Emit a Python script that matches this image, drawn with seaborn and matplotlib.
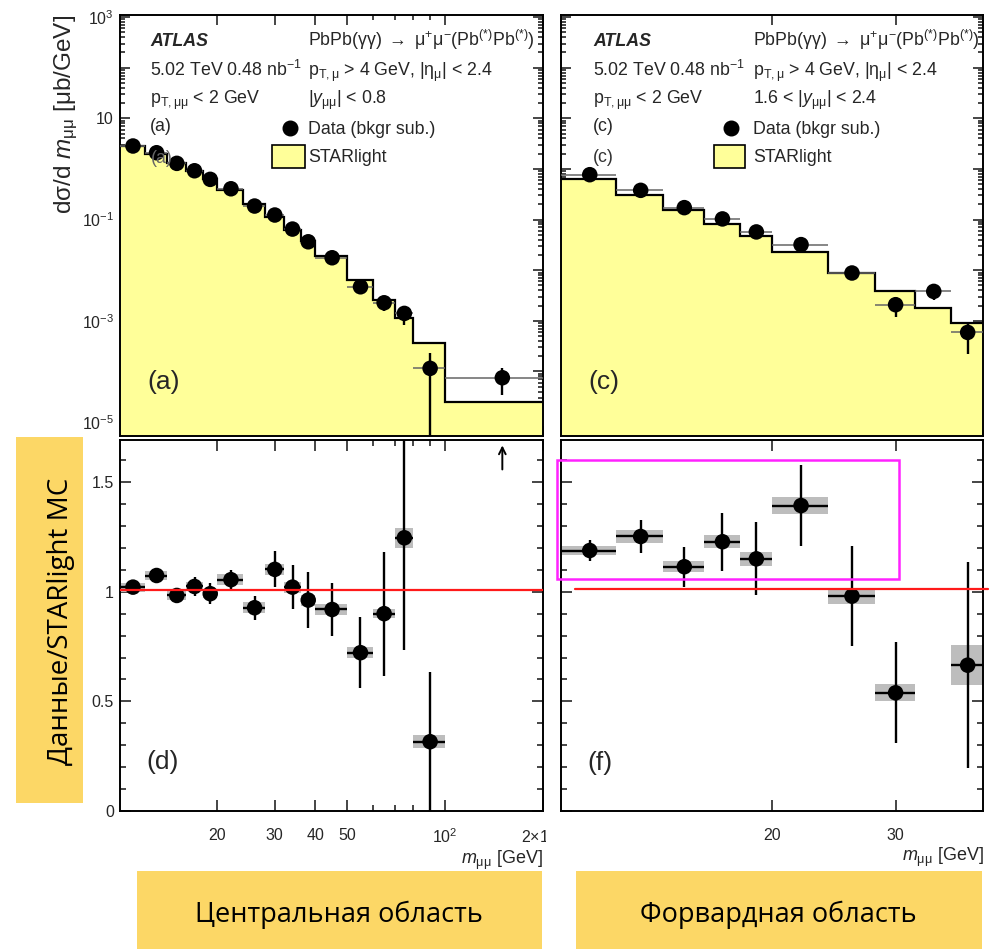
import numpy as np
import matplotlib
matplotlib.use("Agg")
import matplotlib.pyplot as plt
import matplotlib.ticker as mticker
from matplotlib.patches import Rectangle
from matplotlib.transforms import Bbox, TransformedBbox
import seaborn as sns

# ---------------- data ----------------
edges_c = [10, 12, 14, 16, 18, 20, 24, 28, 32, 36, 40, 50, 60, 70, 80, 100, 200]
centers_c = [11, 13, 15, 17, 19, 22, 26, 30, 34, 38, 45, 55, 65, 75, 90, 150]
data_c = [2.84, 2.09, 1.29, 0.921, 0.623, 0.406, 0.185, 0.123, 0.0649, 0.0364,
          0.0176, 0.0047, 0.00227, 0.0014, 1.15e-4, 7.5e-5]
data_c_err = [0.056, 0.049, 0.026, 0.040, 0.031, 0.017, 0.011, 0.0092, 0.0064, 0.0048,
              0.0023, 0.00106, 0.00071, 0.00058, 1.16e-4, 4.1e-5]
starlight_c = [2.78, 1.95, 1.31, 0.90, 0.629, 0.385, 0.200, 0.112, 0.0636, 0.0378,
               0.0192, 0.0065, 0.00252, 0.00112, 3.6e-4, 2.44e-5]
ratio_c = [1.021, 1.074, 0.983, 1.024, 0.991, 1.055, 0.927, 1.102, 1.021, 0.962,
           0.919, 0.722, 0.900, 1.246, 0.316]
ratio_c_err = [0.02, 0.025, 0.02, 0.044, 0.049, 0.045, 0.055, 0.082, 0.10, 0.128,
               0.119, 0.163, 0.283, 0.512, 0.32]
ratio_c_syst = [0.02, 0.02, 0.02, 0.02, 0.02, 0.025, 0.025, 0.025, 0.025, 0.025,
                0.025, 0.025, 0.022, 0.046, 0.03]

edges_f = [10, 12, 14, 16, 18, 20, 24, 28, 32, 36, 40]
centers_f = [11, 13, 15, 17, 19, 22, 26, 30, 34, 38]
data_f = [0.77, 0.378, 0.172, 0.103, 0.057, 0.032, 0.0088, 0.00208, 0.00381, 5.9e-4]
data_f_err = [0.032, 0.022, 0.0142, 0.0112, 0.0083, 0.0042, 0.0020, 0.00089, 0.0012, 3.7e-4]
starlight_f = [0.634, 0.30, 0.152, 0.080, 0.048, 0.0229, 0.0088, 0.0038, 0.00179, 9.06e-4]
ratio_f = [1.188, 1.252, 1.114, 1.228, 1.150, 1.393, 0.980, 0.539, 2.13, 0.665]
ratio_f_err = [0.05, 0.074, 0.092, 0.133, 0.167, 0.183, 0.228, 0.231, 0.3, 0.47]
ratio_f_syst = [0.021, 0.029, 0.025, 0.03, 0.031, 0.037, 0.034, 0.038, 0.04, 0.092]

xticks_c = [20, 30, 40, 50, 100, 200]
xticklabels_c = ["20", "30", "40", "50", "10$^{2}$", "2\u00d710$^{2}$"]
xticks_f = [20, 30]
xticklabels_f = ["20", "30"]
rticks = [0, 0.5, 1, 1.5]
rticklabels = ["0", "0.5", "1", "1.5"]

# ---------------- style ----------------
sns.set_theme(style="ticks")
plt.rcParams["font.family"] = ["Liberation Sans", "DejaVu Sans"]
plt.rcParams["mathtext.fontset"] = "custom"
plt.rcParams["mathtext.rm"] = "Liberation Sans"
plt.rcParams["mathtext.it"] = "Liberation Sans:italic"
plt.rcParams["mathtext.bf"] = "Liberation Sans:bold"
plt.rcParams["axes.linewidth"] = 1.4
plt.rcParams["axes.edgecolor"] = "black"

W, H = 991, 949
fig = plt.figure(figsize=(W / 100, H / 100), dpi=100)
fig.patch.set_facecolor("white")


def fx(px):
    return px / W


def fy(py):
    return 1 - py / H


def add_ax(l, t, r, b):
    return fig.add_axes([fx(l), fy(b), (r - l) / W, (b - t) / H])


ax_tl = add_ax(119.5, 15, 543, 436)
ax_bl = add_ax(119.5, 440, 543, 811)
ax_tr = add_ax(560.7, 15, 983.3, 436)
ax_br = add_ax(560.7, 440, 983.3, 811)

YEL = "#FFFF99"
TICKFS = 11.5
TXTFS = 12.8


def log_fmt(v, pos):
    e = int(round(np.log10(v)))
    if e % 2 == 0:
        return ""
    if e == 1:
        return "10"
    return "10$^{%d}$" % e


def style_top(ax, xlim, xmaj, xmin, show_ylabels):
    ax.set_xscale("log")
    ax.set_yscale("log")
    ax.set_xlim(*xlim)
    ax.set_ylim(5.3e-6, 1.1e3)
    ax.xaxis.set_major_locator(mticker.FixedLocator(xmaj))
    ax.xaxis.set_minor_locator(mticker.FixedLocator(xmin))
    ax.xaxis.set_major_formatter(mticker.NullFormatter())
    ax.xaxis.set_minor_formatter(mticker.NullFormatter())
    ax.yaxis.set_major_locator(mticker.LogLocator(base=10, numticks=30))
    ax.yaxis.set_minor_locator(mticker.LogLocator(base=10, subs=np.arange(2, 10), numticks=30))
    if show_ylabels:
        ax.yaxis.set_major_formatter(mticker.FuncFormatter(log_fmt))
    else:
        ax.yaxis.set_major_formatter(mticker.NullFormatter())
    ax.yaxis.set_minor_formatter(mticker.NullFormatter())
    ax.tick_params(which="both", direction="in", top=True, right=True, labelsize=TICKFS, width=1.2)
    ax.tick_params(which="major", length=7)
    ax.tick_params(which="minor", length=3.5)
    ax.tick_params(axis="y", which="major", pad=4)


def style_bottom(ax, xlim, xmaj, xlab, xmin, show_ylabels):
    ax.set_xscale("log")
    ax.set_xlim(*xlim)
    ax.set_ylim(0, 1.692)
    ax.xaxis.set_major_locator(mticker.FixedLocator(xmaj))
    ax.xaxis.set_major_formatter(mticker.FixedFormatter(xlab))
    ax.xaxis.set_minor_locator(mticker.FixedLocator(xmin))
    ax.xaxis.set_minor_formatter(mticker.NullFormatter())
    ax.yaxis.set_major_locator(mticker.FixedLocator(rticks))
    ax.yaxis.set_minor_locator(mticker.MultipleLocator(0.1))
    if show_ylabels:
        ax.yaxis.set_major_formatter(mticker.FixedFormatter(rticklabels))
    else:
        ax.yaxis.set_major_formatter(mticker.NullFormatter())
    ax.tick_params(which="both", direction="in", top=True, right=True, labelsize=TICKFS, width=1.2)
    ax.tick_params(which="major", length=8)
    ax.tick_params(which="minor", length=4)
    ax.tick_params(axis="x", which="major", pad=12)
    ax.tick_params(axis="y", which="major", pad=4)
    ax.set_xlabel(r"$m_{\mathrm{\mu\mu}}$ [GeV]", fontsize=13, loc="right", labelpad=2)


def draw_top(ax, edges, centers, data, err, sl):
    ax.stairs(sl, edges, baseline=1e-9, fill=True, color=YEL, zorder=1)
    ax.stairs(sl, edges, baseline=None, color="black", lw=1.6, zorder=2)
    ax.hlines(data, edges[:-1], edges[1:], colors="#666666", lw=1.1, zorder=3)
    ax.errorbar(centers, data, yerr=err, fmt="none", ecolor="black", elinewidth=1.7, zorder=4)
    sns.scatterplot(x=centers, y=data, ax=ax, color="black", s=125, edgecolor="none",
                    legend=False, zorder=5)


def draw_ratio(ax, edges, centers, ratio, rerr, syst):
    e = np.asarray(edges[: len(ratio) + 1], float)
    r = np.asarray(ratio)
    s = np.asarray(syst)
    ax.bar(e[:-1], 2 * s, bottom=r - s, width=np.diff(e), align="edge",
           color="#bdbdbd", edgecolor="none", zorder=2)
    ax.hlines(r, e[:-1], e[1:], colors="black", lw=1.7, zorder=3)
    ax.errorbar(centers[: len(ratio)], r, yerr=rerr, fmt="none", ecolor="black",
                elinewidth=1.7, zorder=4)
    sns.scatterplot(x=centers[: len(ratio)], y=r, ax=ax, color="black", s=125,
                    edgecolor="none", legend=False, zorder=5)


# top panels
style_top(ax_tl, (10, 200), xticks_c, [60, 70, 80, 90], True)
draw_top(ax_tl, edges_c, centers_c, data_c, data_c_err, starlight_c)
style_top(ax_tr, (10, 40), xticks_f, [], False)
draw_top(ax_tr, edges_f, centers_f, data_f, data_f_err, starlight_f)

# ratio panels
style_bottom(ax_bl, (10, 200), xticks_c, xticklabels_c, [60, 70, 80, 90], True)
draw_ratio(ax_bl, edges_c, centers_c, ratio_c, ratio_c_err, ratio_c_syst)
ax_bl.axhline(1.01, color="#ff1a1a", lw=1.6, zorder=6)
ax_bl.annotate("", xy=(centers_c[-1], 1.68), xytext=(centers_c[-1], 1.545),
               arrowprops=dict(arrowstyle="->", color="black", lw=1.4), zorder=6)

style_bottom(ax_br, (10, 40), xticks_f, xticklabels_f, [], False)
draw_ratio(ax_br, edges_f, centers_f, ratio_f, ratio_f_err, ratio_f_syst)
ax_br.plot([10.48, 40.6], [1.012, 1.012], color="#ff1a1a", lw=1.6, zorder=6, clip_on=False)
ax_br.add_patch(Rectangle((9.89, 1.056), 30.3 - 9.89, 0.547, fill=False,
                          edgecolor="#ff22ff", lw=1.8, clip_on=False, zorder=7))

# clip the last x tick label of the left ratio panel (as in reference)
fig.canvas.draw()
for lbl in ax_bl.get_xticklabels():
    if "\u00d7" in lbl.get_text():
        lbl.set_clip_box(TransformedBbox(Bbox([[0, 0], [546 / W, 1]]), fig.transFigure))
        lbl.set_clip_on(True)

# y label top panel
fig.text(fx(66), fy(15), r"d$\mathrm{\sigma}$/d $m_{\mathrm{\mu\mu}}$ [$\mathrm{\mu}$b/GeV]",
         rotation=90, ha="center", va="top", fontsize=17.5)


# panel texts
def panel_text(x0, x1, ysel, tag, lx_marker, lx_text, box_l, box_r):
    fig.text(fx(x0), fy(46), "ATLAS", fontsize=TXTFS, fontweight="bold", fontstyle="italic")
    fig.text(fx(x0), fy(76), r"5.02 TeV 0.48 nb$^{\mathrm{-1}}$", fontsize=TXTFS)
    fig.text(fx(x0), fy(104), r"p$_{\mathrm{T,\mu\mu}}$ < 2 GeV", fontsize=TXTFS)
    fig.text(fx(x0), fy(131), tag, fontsize=TXTFS)
    fig.text(fx(x1), fy(46),
             r"PbPb($\mathrm{\gamma\gamma}$) $\rightarrow$ $\mathrm{\mu}^{+}\mathrm{\mu}^{-}$(Pb$^{(*)}$Pb$^{(*)}$)",
             fontsize=TXTFS)
    fig.text(fx(x1), fy(76), r"p$_{\mathrm{T,\mu}}$ > 4 GeV, |$\mathrm{\eta}_{\mathrm{\mu}}$| < 2.4",
             fontsize=TXTFS)
    fig.text(fx(x1), fy(104), ysel, fontsize=TXTFS)
    fig.lines.append(plt.Line2D([fx(lx_marker)], [fy(128)], marker="o", ms=10.5, color="black",
                                transform=fig.transFigure))
    fig.text(fx(lx_text), fy(134), "Data (bkgr sub.)", fontsize=TXTFS)
    fig.patches.append(Rectangle((fx(box_l), fy(168)), (box_r - box_l) / W, 23 / H,
                                 facecolor=YEL, edgecolor="black", lw=1.2,
                                 transform=fig.transFigure))
    fig.text(fx(lx_text), fy(162), "STARlight", fontsize=TXTFS)


panel_text(150, 308, r"|$y_{\mathrm{\mu\mu}}$| < 0.8", "(a)", 290, 308, 272, 305)
panel_text(593, 753, r"1.6 < |$y_{\mathrm{\mu\mu}}$| < 2.4", "(c)", 731, 753, 714, 745)

# faint duplicated tags partly hidden behind the data
fig.text(fx(593), fy(162), "(c)", fontsize=TXTFS, color="#333333")
fig.text(fx(151), fy(163), "(a)", fontsize=TXTFS, color="#666666", zorder=0.5)

# big panel tags
for x, y, t in [(164, 382, "(a)"), (604, 382, "(c)"), (163, 762, "(d)"), (600, 763, "(f)")]:
    fig.text(fx(x), fy(y), t, fontsize=19, ha="center", va="center")

# orange overlay boxes
ORANGE = "#FCD766"
RUFONT = ["Open Sans", "DejaVu Sans"]
fig.patches.append(Rectangle((fx(16), fy(803)), 67 / W, 366 / H, facecolor=ORANGE,
                             edgecolor="none", transform=fig.transFigure, zorder=10))
fig.text(fx(61), fy(621), "Данные/STARlight MC", rotation=90, ha="center", va="center",
         fontsize=20, family=RUFONT, color="black", zorder=11)
fig.patches.append(Rectangle((fx(136.7), fy(949)), 405 / W, 78 / H, facecolor=ORANGE,
                             edgecolor="none", transform=fig.transFigure, zorder=10))
fig.text(fx(339), fy(915), "Центральная область", ha="center", va="center",
         fontsize=19.5, family=RUFONT, color="black", zorder=11)
fig.patches.append(Rectangle((fx(576), fy(949)), 405.7 / W, 78 / H, facecolor=ORANGE,
                             edgecolor="none", transform=fig.transFigure, zorder=10))
fig.text(fx(778), fy(915), "Форвардная область", ha="center", va="center",
         fontsize=19.5, family=RUFONT, color="black", zorder=11)

fig.savefig("out.png", dpi=100)
